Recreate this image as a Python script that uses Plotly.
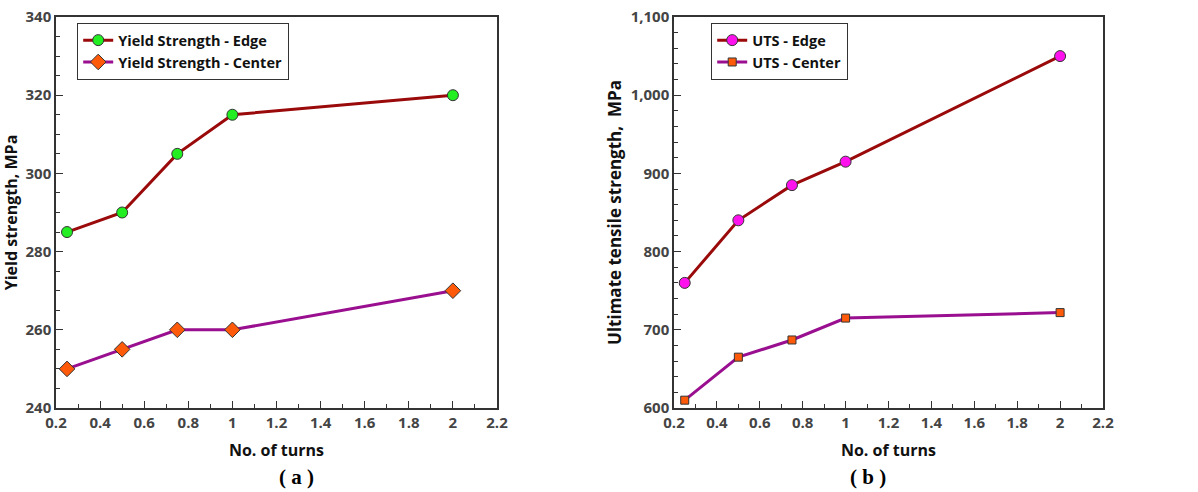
import plotly.graph_objects as go

turns = [0.25, 0.5, 0.75, 1.0, 2.0]
ys_edge = [285, 290, 305, 315, 320]
ys_center = [250, 255, 260, 260, 270]
uts_edge = [760, 840, 885, 915, 1050]
uts_center = [610, 665, 687, 715, 722]

x_ticks = [0.2, 0.4, 0.6, 0.8, 1.0, 1.2, 1.4, 1.6, 1.8, 2.0, 2.2]
x_tick_text = ["0.2", "0.4", "0.6", "0.8", "1", "1.2", "1.4", "1.6", "1.8", "2", "2.2"]
ys_ticks = [240, 260, 280, 300, 320, 340]
uts_ticks = [600, 700, 800, 900, 1000, 1100]
uts_tick_text = ["600", "700", "800", "900", "1,000", "1,100"]

EDGE_LINE = "#9a0a0a"
CENTER_LINE = "#990f8f"
GREEN = "#22ee22"
ORANGE = "#ff5a0a"
MAGENTA = "#ff11ee"
FONT = "Open Sans"

W, H = 1198, 492
PL, PR, PT, PB = 56, 1103, 17, 408  # plot-area extent in pixels
L, T = PL, PT
pw, ph = PR - PL, PB - PT
R = W - L - pw
B = H - T - ph

def px(xs):
    return (xs - PL) / pw

def py(ys):
    return (PB - ys) / ph

fig = go.Figure()

fig.add_trace(go.Scatter(x=turns, y=ys_edge, mode="lines+markers", name="Yield Strength - Edge",
                         line=dict(color=EDGE_LINE, width=3),
                         marker=dict(symbol="circle", size=11, color=GREEN, line=dict(color="#333", width=1)),
                         xaxis="x", yaxis="y", legend="legend"))
fig.add_trace(go.Scatter(x=turns, y=ys_center, mode="lines+markers", name="Yield Strength - Center",
                         line=dict(color=CENTER_LINE, width=3),
                         marker=dict(symbol="diamond", size=12, color=ORANGE, line=dict(color="#333", width=1)),
                         xaxis="x", yaxis="y", legend="legend"))
fig.add_trace(go.Scatter(x=turns, y=uts_edge, mode="lines+markers", name="UTS - Edge",
                         line=dict(color=EDGE_LINE, width=3),
                         marker=dict(symbol="circle", size=11, color=MAGENTA, line=dict(color="#333", width=1)),
                         xaxis="x2", yaxis="y2", legend="legend2"))
fig.add_trace(go.Scatter(x=turns, y=uts_center, mode="lines+markers", name="UTS - Center",
                         line=dict(color=CENTER_LINE, width=3),
                         marker=dict(symbol="square", size=8, color=ORANGE, line=dict(color="#333", width=1)),
                         xaxis="x2", yaxis="y2", legend="legend2"))

tickfont = dict(family=FONT, size=15, color="#444", weight="bold")

def titlefont(size):
    return dict(family=FONT, size=size, color="#111", weight="bold")

def xaxis_cfg(domain, anchor):
    return dict(domain=domain, anchor=anchor, range=[0.2, 2.2], tickvals=x_ticks, ticktext=x_tick_text,
                ticks="inside", ticklen=7, tickwidth=1.3, tickcolor="#333",
                minor=dict(dtick=0.1, tick0=0, ticks="inside", ticklen=4, tickwidth=1.3, tickcolor="#333"),
                showline=True, linecolor="#333", linewidth=1.5, mirror=True,
                showgrid=False, zeroline=False, tickfont=tickfont, automargin=False,
                ticklabeloverflow="allow",
                title=dict(text="No. of turns", font=titlefont(16), standoff=14))

def yaxis_cfg(anchor, rng, tv, tt, minor_dt, title, size, standoff):
    return dict(domain=[0, 1], anchor=anchor, range=rng, tickvals=tv, ticktext=tt,
                ticks="inside", ticklen=7, tickwidth=1.3, tickcolor="#333",
                minor=dict(dtick=minor_dt, tick0=0, ticks="inside", ticklen=4, tickwidth=1.3, tickcolor="#333"),
                showline=True, linecolor="#333", linewidth=1.5, mirror=True,
                showgrid=False, zeroline=False, tickfont=tickfont, automargin=False,
                ticklabeloverflow="allow",
                title=dict(text=title, font=titlefont(size), standoff=standoff))

legfont = dict(family=FONT, size=14.5, color="#111", weight="bold")

fig.update_layout(
    width=W, height=H,
    margin=dict(l=L, r=R, t=T, b=B, autoexpand=False),
    plot_bgcolor="white", paper_bgcolor="white",
    xaxis=xaxis_cfg([0, px(497)], "y"),
    yaxis=yaxis_cfg("x", [240, 340], ys_ticks, [str(v) for v in ys_ticks], 5, "Yield strength, MPa", 16, 4),
    xaxis2=xaxis_cfg([px(674), 1.0], "y2"),
    yaxis2=yaxis_cfg("x2", [600, 1100], uts_ticks, uts_tick_text, 20, "Ultimate tensile strength,  MPa", 17, 5),
    legend=dict(x=px(77), y=py(23), xanchor="left", yanchor="top",
                bordercolor="#333", borderwidth=1.2, bgcolor="white", font=legfont,
                itemwidth=30, tracegroupgap=0),
    legend2=dict(x=px(711), y=py(23), xanchor="left", yanchor="top",
                 bordercolor="#333", borderwidth=1.2, bgcolor="white", font=legfont,
                 itemwidth=30, tracegroupgap=0),
    showlegend=True,
    annotations=[
        dict(text="( a )", xref="paper", yref="paper", x=px(277), y=py(477), yanchor="middle",
             showarrow=False, font=dict(family="Liberation Serif", size=21, color="#000", weight="bold")),
        dict(text="( b )", xref="paper", yref="paper", x=px(888), y=py(477), yanchor="middle",
             showarrow=False, font=dict(family="Liberation Serif", size=21, color="#000", weight="bold")),
    ],
)

fig.write_html("out.html", config={"displayModeBar": False},
               post_script="document.body.style.margin='0';document.body.style.overflow='hidden';")
